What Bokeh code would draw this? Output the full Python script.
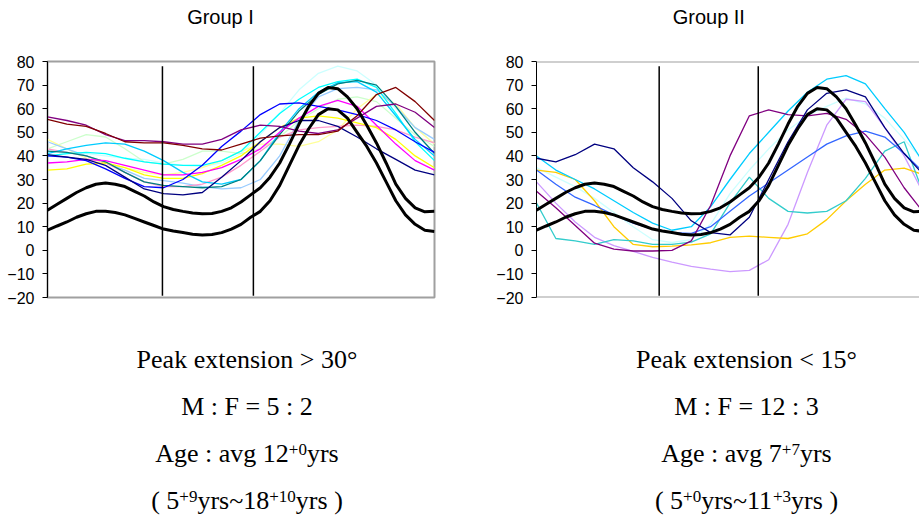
from bokeh.plotting import figure
from bokeh.layouts import row, column
from bokeh.models import Label, FixedTicker, Range1d, Span
from bokeh.embed import file_html
from bokeh.resources import INLINE

# ---------------- data ----------------
x_pct = list(range(0, 101, 5))
x_fine = [i * 2.5 for i in range(41)]
y_ticks = [-20, -10, 0, 10, 20, 30, 40, 50, 60, 70, 80]

# normal band (drawn in both panels), sampled every 2.5 %
norm_upper = [17, 19.5, 22, 24.5, 26.5, 28, 28.5, 28, 27, 25, 23, 20.5, 18.5, 17.3, 16.5, 15.8, 15.5, 15.6,
              16.5, 18, 20.5, 23.5, 26.5, 31, 37, 45, 53.5, 61, 66.5, 69, 68.5, 65, 60, 53, 45.5, 37, 28,
              22, 18, 16.3, 16.5]
norm_lower = [8.5, 10.3, 12, 14, 15.5, 16.5, 16.5, 16, 15, 13.5, 12, 10.5, 9, 8.2, 7.5, 6.8, 6.5, 6.7,
              7.5, 9, 11, 14, 16.5, 21, 27.5, 36, 44.5, 51.5, 57.5, 60, 59.5, 56, 50, 44, 37, 29, 21,
              15, 11, 8.5, 8]

# Group I
g1_purple = [56.5, 55, 53, 49, 46.5, 46.5, 46, 45, 45, 47, 51, 53, 52.5, 50.5, 49.5, 51, 56, 61, 62, 58.5, 52]
g1_darkred = [55.5, 53.5, 52.5, 49.5, 46, 45.5, 45.5, 44.5, 43, 42.5, 45, 47.5, 48.5, 49, 49, 50.5, 57, 66, 69, 63, 55]
g1_navy = [40.5, 39.5, 38.5, 36, 31, 26, 24, 23.5, 24.5, 31, 38, 46, 52, 55, 55, 52.5, 48, 43, 38.5, 34, 32]
g1_blue = [40, 39.5, 38, 34.5, 30.5, 27, 26.5, 30, 36, 44, 50.5, 57.5, 62, 62.5, 61, 59.5, 57.5, 55, 51, 46, 41.5]
g1_skyblue = [41, 43, 44.5, 45.5, 45, 42, 38, 33, 29, 28, 30, 38, 50, 60, 67, 71, 71.5, 67, 57, 47, 40]
g1_cyan = [40, 41, 41.5, 41, 39, 37.5, 36.5, 36, 36, 38, 42, 50, 58, 64, 69, 71.5, 72.5, 69, 58, 46, 38]
g1_teal = [42, 41.5, 40, 37.5, 33, 29, 27.5, 27, 26.5, 27, 30, 38, 49, 59, 66, 70.5, 72, 70, 61, 50, 41]
g1_magenta = [37, 37.5, 38.5, 38, 36, 34, 32, 32, 33, 35, 38.5, 43, 50, 56, 61, 63.5, 61, 53, 45, 38, 34]
g1_yellow = [34, 34.5, 36.5, 37, 35, 32, 30.5, 30.5, 32.5, 36, 40, 46, 52, 56, 57, 56, 54, 52, 47, 40, 35]
g1_lightyellow = [47, 43, 39, 37, 35, 33, 32, 33, 35, 38, 42, 45, 45, 44, 46, 51, 60, 66, 62, 52, 45]
g1_lightgreen = [43, 46, 49, 48, 43, 37.5, 36.5, 38.5, 42, 42, 41, 43, 48, 55, 60, 64, 65, 63, 56, 49, 44]
g1_paleblue = [46, 43, 40, 37, 34, 30.5, 29.5, 28.5, 27, 26, 26.5, 30, 40, 55, 65, 68.5, 69, 68, 61, 52, 47]
g1_rose = [43, 41.5, 40, 37, 33, 29, 27, 27, 28, 31, 36, 42, 48, 51, 52, 52.5, 53, 52.5, 51, 48, 45.5]
g1_lightturq = [40, 41, 41, 40, 39, 38.5, 37, 36, 35.5, 37, 41, 49, 58, 68, 75, 78, 76, 70, 60, 52, 45]

# Group II
g2_navy = [39, 37.5, 40.5, 45, 43, 35, 29, 22, 12.5, 7.5, 6.5, 14, 30, 46, 59.5, 66.5, 68, 65, 52, 41, 32]
g2_skyblue = [40, 34, 30, 26, 21, 16, 11.5, 8.5, 10, 18.5, 30, 41, 50, 59, 67, 72.5, 74, 70.5, 60, 50, 37]
g2_lightturq = [35, 31, 27, 22, 16, 10, 4.5, 3.3, 4.5, 11, 24, 34, 43, 51, 57, 61, 64.5, 62, 56, 47, 38]
g2_blue = [34, 28, 22.5, 19, 15, 11.5, 9, 7.5, 7.2, 10, 16.5, 23, 28.5, 34, 39.5, 45, 48.5, 50.5, 48, 41, 33]
g2_gold = [34, 33, 30, 21, 10, 2.5, 1.5, 1.8, 2.3, 3.2, 5.5, 6, 5.5, 5, 7, 13, 21, 28, 34, 34.8, 32]
g2_purple = [25, 18, 10.5, 3, 0.5, -0.3, -0.3, 0, 4, 19, 40, 57, 59.5, 57.5, 57, 58, 55.5, 49, 39.5, 26.5, 16]
g2_lavender = [29, 20, 12, 5.5, 2, -0.5, -3, -5, -6.8, -8, -9, -8.5, -4, 11, 33, 53, 64, 63, 52, 40, 24]
g2_turq = [20, 5, 4, 2.5, 4.5, 4, 2.5, 2.5, 3.5, 7, 20, 31, 22, 16.5, 15.8, 16.5, 21, 30.5, 42, 46, 24]

g1_events = [29.7, 53.2]
g2_events = [31.7, 57.3]

titles = ["Group I", "Group II"]
g1_lines = [("Peak extension > 30°",), ("M : F = 5 : 2",),
            ("Age : avg 12", "+0", "yrs"), ("( 5", "+9", "yrs~18", "+10", "yrs )")]
g2_lines = [("Peak extension < 15°",), ("M : F = 12 : 3",),
            ("Age : avg 7", "+7", "yrs"), ("( 5", "+0", "yrs~11", "+3", "yrs )")]

g1_series = [
    (g1_lightturq, "#CCFFFF"), (g1_lightgreen, "#CCFFCC"), (g1_lightyellow, "#FFFF99"),
    (g1_paleblue, "#99CCFF"), (g1_rose, "#FF99CC"), (g1_yellow, "#FFFF00"),
    (g1_cyan, "#00FFFF"), (g1_skyblue, "#00CCFF"), (g1_teal, "#008080"),
    (g1_magenta, "#FF00FF"), (g1_blue, "#0000FF"), (g1_navy, "#000080"),
    (g1_purple, "#800080"), (g1_darkred, "#800000"),
]
g2_series = [
    (g2_lightturq, "#CCFFFF"), (g2_lavender, "#CC99FF"), (g2_gold, "#FFCC00"),
    (g2_turq, "#33CCCC"), (g2_blue, "#3366FF"), (g2_skyblue, "#00CCFF"),
    (g2_purple, "#800080"), (g2_navy, "#000080"),
]

# ---------------- layout (page pixels) ----------------
W = 919
TOP_H = 40       # title strip
MID_H = 270      # chart strip
BOT_H = 212      # text strip
PPX = 3.87       # pixels per x unit
BASE_FIX = 0.36  # label baseline correction (em)
FRAME_GRAY = "#a0a0a0"

TIMES = {' ': 250, '(': 333, ')': 333, '+': 564, ':': 278, '~': 541, '=': 564, '<': 564, '>': 564,
         '°': 400, 'A': 722, 'M': 889, 'F': 556, 'P': 556, 'a': 444, 'e': 444, 'g': 500, 'r': 333,
         's': 389, 'v': 500, 'y': 500, 'k': 500, 'x': 500, 't': 278, 'n': 500, 'i': 278, 'o': 500}


def tw(s, size):
    return sum(TIMES.get(c, 500) for c in s) / 1000.0 * size


def strip(height, y0):
    f = figure(width=W, height=height, output_backend="svg", toolbar_location=None,
               x_range=Range1d(0, W), y_range=Range1d(y0 + height, y0),
               x_axis_location=None, y_axis_location=None, min_border=0,
               min_border_left=0, min_border_right=0, min_border_top=0, min_border_bottom=0)
    f.xgrid.visible = False
    f.ygrid.visible = False
    f.outline_line_color = None
    f.background_fill_color = "white"
    f.border_fill_color = "white"
    return f


def make_panel(series, events, width, bl, br, bt, bb, open_right=False):
    frame_w = width - bl - br
    p = figure(width=width, height=MID_H, output_backend="svg", toolbar_location=None,
               x_range=Range1d(0, frame_w / PPX), y_range=Range1d(-20, 80),
               x_axis_location=None, min_border_left=bl, min_border_right=br,
               min_border_top=bt, min_border_bottom=bb)
    p.xgrid.visible = False
    p.ygrid.visible = False
    p.background_fill_color = "white"
    p.border_fill_color = "white"
    if open_right:
        p.outline_line_color = None
        for loc in (80, -20):
            p.add_layout(Span(location=loc, dimension="width", line_color=FRAME_GRAY, line_width=2))
    else:
        p.outline_line_color = FRAME_GRAY
        p.outline_line_width = 2
    ax = p.yaxis[0]
    ax.ticker = FixedTicker(ticks=y_ticks)
    ax.axis_line_color = "black"
    ax.axis_line_width = 1
    ax.major_tick_line_color = "black"
    ax.major_tick_out = 5
    ax.major_tick_in = 0
    ax.minor_tick_line_color = None
    ax.major_label_standoff = 8
    ax.major_label_text_font = "Liberation Sans"
    ax.major_label_text_font_size = "16px"
    ax.major_label_text_color = "black"

    for vals, col in series:
        p.line(x_pct, vals, line_color=col, line_width=1.3)
    p.line(x_fine, norm_upper, line_color="black", line_width=3)
    p.line(x_fine, norm_lower, line_color="black", line_width=3)
    p.segment(x0=events, x1=events, y0=[-19.3] * len(events), y1=[78] * len(events),
              line_color="black", line_width=1.5)
    return p


def add_block(f, lines, cx):
    baselines = [368, 415, 462, 509.5]
    main_sz, sup_sz, raise_px = 26, 17, 7
    for parts, base in zip(lines, baselines):
        total = sum(tw(s, sup_sz if i % 2 else main_sz) for i, s in enumerate(parts))
        cur = cx - total / 2.0
        for i, s in enumerate(parts):
            sup = i % 2 == 1
            sz = sup_sz if sup else main_sz
            y = base - (raise_px if sup else 0) - BASE_FIX * sz
            f.add_layout(Label(x=cur, y=y, text=s,
                               text_align="left", text_baseline="alphabetic",
                               text_font="Liberation Serif", text_font_size=f"{sz}px",
                               text_color="black"))
            cur += tw(s, sz)


# title strip
top = strip(TOP_H, 0)
for t, cx, by in zip(titles, [220, 708.3], [23.5, 24]):
    top.add_layout(Label(x=cx, y=by - BASE_FIX * 20, text=t, text_align="center",
                         text_baseline="alphabetic", text_font="Liberation Sans",
                         text_font_size="20px", text_color="black"))

# chart strip: left frame 47..434, 59..298 ; right frame 536..919, 61..297
p1 = make_panel(g1_series, g1_events, width=470, bl=47, br=36, bt=59 - TOP_H, bb=TOP_H + MID_H - 298)
p2 = make_panel(g2_series, g2_events, width=W - 470, bl=66, br=0, bt=61 - TOP_H,
                bb=TOP_H + MID_H - 297, open_right=True)

# text strip
bot = strip(BOT_H, TOP_H + MID_H)
add_block(bot, g1_lines, 246.5)
add_block(bot, g2_lines, 746)

p = column(top, row(p1, p2), bot)

open("out.html", "w").write(file_html(p, INLINE, title="Group I / Group II"))
